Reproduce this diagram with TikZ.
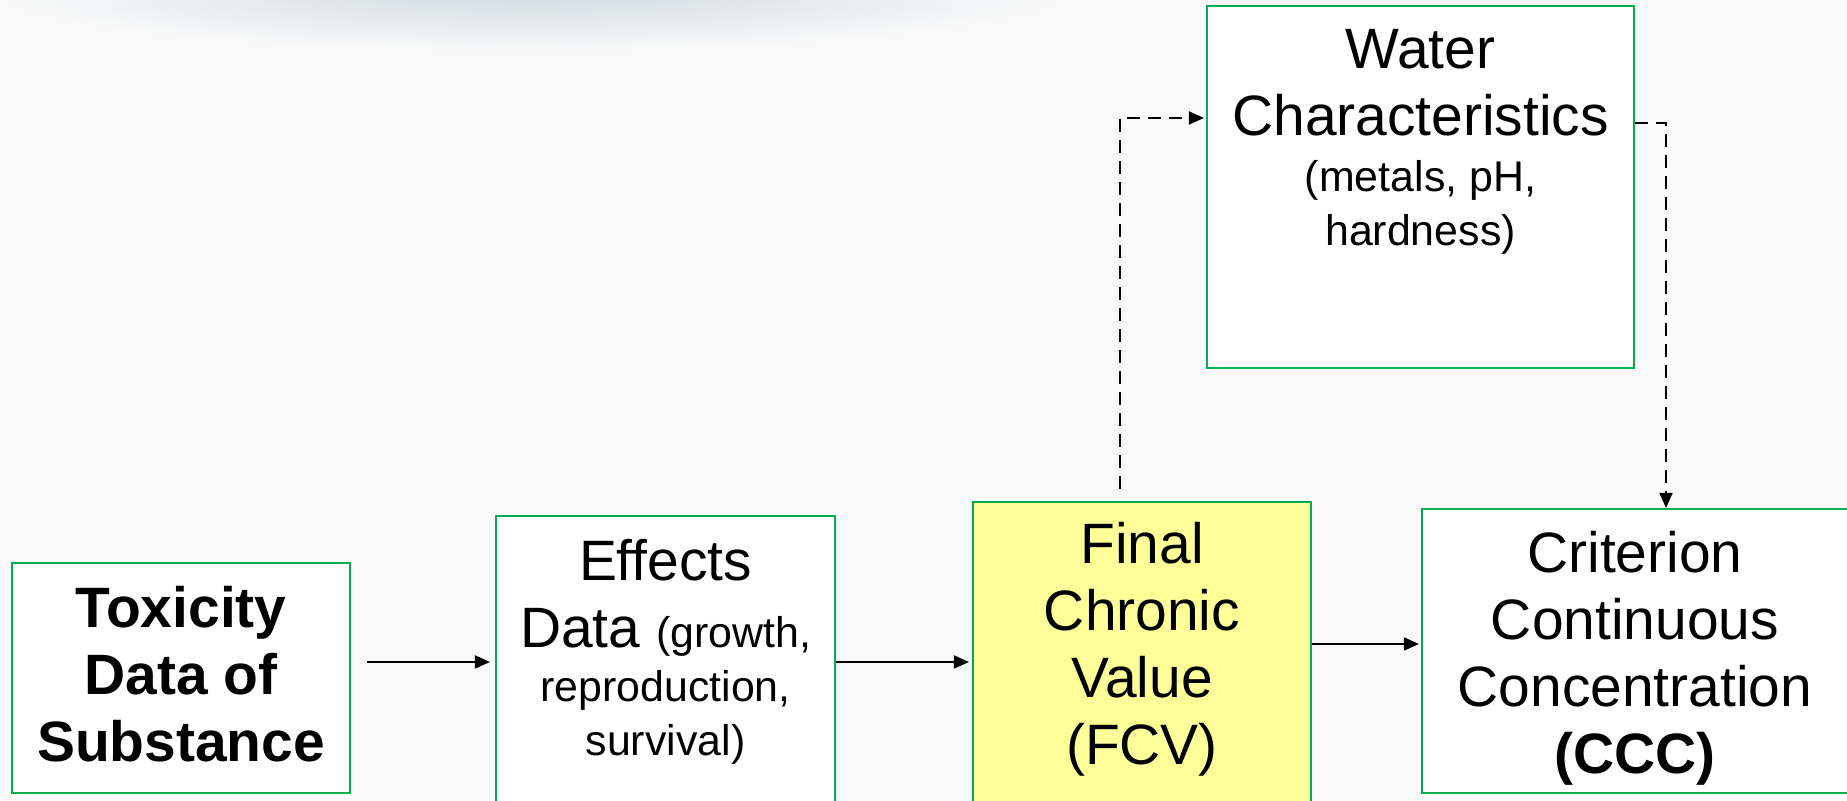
\documentclass[tikz,border=0pt]{standalone}
\usepackage{fontspec}
\setmainfont{Liberation Sans}
\usetikzlibrary{arrows.meta}

\definecolor{bgcol}{RGB}{249,249,249}
\definecolor{boxgreen}{RGB}{0,176,80}
\definecolor{fcvyellow}{RGB}{255,255,153}
\definecolor{shadowcol}{RGB}{206,219,227}
\newcommand{\bigfnt}{\fontsize{16.2pt}{19pt}\selectfont}
\newcommand{\smallfnt}{\fontsize{12.2pt}{15pt}\selectfont}

\begin{document}
\begin{tikzpicture}[
    box/.style={draw=boxgreen, line width=0.6pt, fill=white, inner sep=0pt},
    boxtext/.style={anchor=north, inner sep=0pt, align=center, font=\bigfnt},
    arr/.style={-{Triangle[length=1.5mm,width=1.3mm]}, line width=0.5pt},
    dasharr/.style={arr, dash pattern=on 1.3mm off 0.8mm}
]
    % Background
    \fill [bgcol] (0,0) rectangle (18.47,8.01);
    \useasboundingbox (0,0) rectangle (18.47,8.01);
    \shade [inner color=shadowcol, outer color=bgcol] (5.3,8.1)
        ellipse [x radius=5.4, y radius=0.6];

    % Boxes
    \node [box, minimum width=3.38cm, minimum height=2.30cm] (tox) at (1.81,1.23) {};
    \node [box, minimum width=3.39cm, minimum height=2.92cm] (eff) at (6.655,1.39) {};
    \node [box, fill=fcvyellow, minimum width=3.38cm, minimum height=3.19cm] (fcv) at (11.42,1.395) {};
    \node [box, minimum width=4.26cm, minimum height=2.84cm] (ccc) at (16.35,1.50) {};
    \node [box, minimum width=4.27cm, minimum height=3.62cm] (wat) at (14.205,6.14) {};

    % Box texts
    \node [boxtext] (toxtxt) at ([yshift=-2.4mm]tox.north)
        {\bfseries Toxicity\\\bfseries Data of\\\bfseries Substance};
    \node [boxtext] (efftxt) at ([yshift=-2.4mm]eff.north)
        {Effects\\Data {\smallfnt (growth,}\\[-3.6pt]{\smallfnt reproduction,}\\[-3.6pt]{\smallfnt survival)}};
    \node [boxtext] (fcvtxt) at ([yshift=-2.1mm]fcv.north)
        {Final\\Chronic\\Value\\(FCV)};
    \node [boxtext] (ccctxt) at ([yshift=-2.3mm]ccc.north)
        {Criterion\\Continuous\\Concentration\\{\bfseries (CCC)}};
    \node [boxtext] (wattxt) at ([yshift=-2.4mm]wat.north)
        {Water\\Characteristics\\[-3pt]{\smallfnt (metals, pH,}\\[-3.8pt]{\smallfnt hardness)}};

    % Main flow
    \draw [arr, shorten <=1.6mm, shorten >=0.5mm] (tox.east |- eff.west) -- (eff.west);
    \draw [arr, shorten >=0.3mm] (eff.east) -- (eff.east -| fcv.west);
    \draw [arr, shorten >=0.2mm] ([yshift=0.7mm]ccc.west -| fcv.east) -- ([yshift=0.7mm]ccc.west);

    % Water characteristics loop
    \draw [dasharr, shorten <=1.2mm, shorten >=0.2mm] ([xshift=-2.2mm]fcv.north)
        |- ([yshift=6.9mm]wat.west);
    \draw [dasharr] ([yshift=6.4mm]wat.east) -| ([xshift=3.1mm]ccc.north);
\end{tikzpicture}
\end{document}
